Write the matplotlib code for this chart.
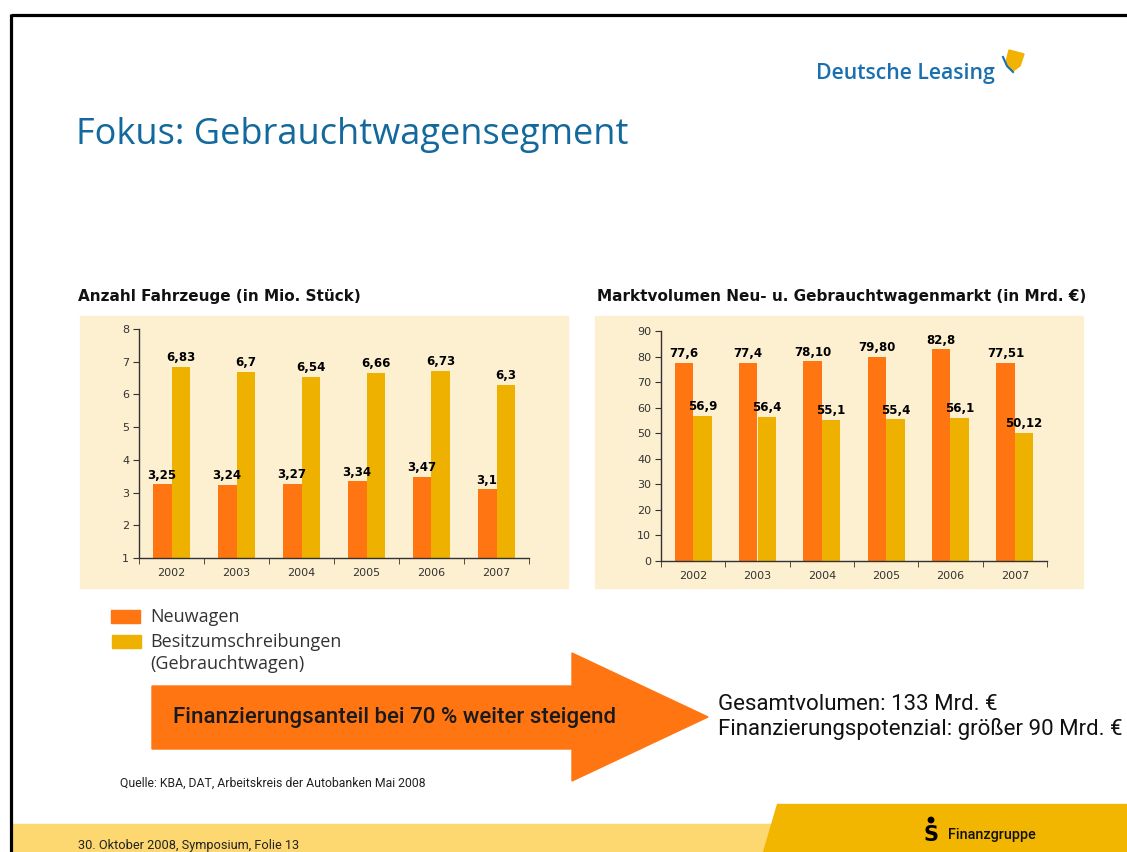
import matplotlib
matplotlib.use("Agg")
import matplotlib.pyplot as plt
from matplotlib.patches import Rectangle, Polygon, Circle
import numpy as np

# data
years = ["2002", "2003", "2004", "2005", "2006", "2007"]

# Anzahl Fahrzeuge (in Mio. Stueck)
neu_stueck = [3.25, 3.24, 3.27, 3.34, 3.47, 3.1]
gebraucht_stueck = [6.83, 6.7, 6.54, 6.66, 6.73, 6.3]
neu_stueck_lbl = ["3,25", "3,24", "3,27", "3,34", "3,47", "3,1"]
gebraucht_stueck_lbl = ["6,83", "6,7", "6,54", "6,66", "6,73", "6,3"]

# Marktvolumen (in Mrd. EUR)
neu_mrd = [77.6, 77.4, 78.10, 79.80, 82.8, 77.51]
gebraucht_mrd = [56.9, 56.4, 55.1, 55.4, 56.1, 50.12]
neu_mrd_lbl = ["77,6", "77,4", "78,10", "79,80", "82,8", "77,51"]
gebraucht_mrd_lbl = ["56,9", "56,4", "55,1", "55,4", "56,1", "50,12"]

ORANGE = "#FF7512"
GOLD = "#EEB100"
PANEL = "#FDF0D0"
BLUE = "#13699D"
W, H = 1127, 852

plt.rcParams["font.family"] = ["DejaVu Sans"]
fig = plt.figure(figsize=(W / 100, H / 100), dpi=100)
fig.patch.set_facecolor("white")

# overlay in pixel coordinates for the slide decoration
bg = fig.add_axes([0, 0, 1, 1], zorder=0)
bg.set_xlim(0, W)
bg.set_ylim(H, 0)
bg.axis("off")

# frame lines
bg.plot([11, W], [15, 15], color="black", lw=2.3, solid_capstyle="butt")
bg.plot([11, 11], [14, H], color="black", lw=2.3, solid_capstyle="butt")

# logo
bg.text(816, 74, "Deutsche Leasing", fontsize=15.3, color="#1A70AE",
        family="Open Sans", fontweight="semibold", va="center", ha="left")
bg.add_patch(Polygon([(1009, 50), (1024, 54), (1020, 66), (1013, 71), (1006, 62)],
                     closed=True, color="#F2B200", zorder=3))
bg.plot([1003, 1007, 1013], [57, 66, 72], color="#1A70AE", lw=1.5, zorder=4)

# title
bg.text(76, 135, "Fokus: Gebrauchtwagensegment", fontsize=26, color=BLUE,
        family="Open Sans", va="center", ha="left")

# chart subtitles
bg.text(78, 297, "Anzahl Fahrzeuge (in Mio. Stück)", fontsize=11,
        fontweight="bold", color="#111111", va="center", ha="left")
bg.text(597, 297, "Marktvolumen Neu- u. Gebrauchtwagenmarkt (in Mrd. €)",
        fontsize=11, fontweight="bold", color="#111111", va="center", ha="left")

# chart panels
bg.add_patch(Rectangle((80, 316), 488, 272, color=PANEL, zorder=0))
bg.add_patch(Rectangle((595, 316), 488, 272, color=PANEL, zorder=0))


def bar_chart(rect, neu, gebr, neu_lbl, gebr_lbl, ylim, yticks):
    x0, y0, x1, y1 = rect
    ax = fig.add_axes([x0 / W, 1 - y1 / H, (x1 - x0) / W, (y1 - y0) / H], zorder=2)
    ax.set_facecolor("none")
    x = np.arange(len(years))
    bw = 0.29
    b1 = ax.bar(x - bw / 2, neu, bw, color=ORANGE, bottom=0)
    b2 = ax.bar(x + bw / 2, gebr, bw, color=GOLD, bottom=0)
    ax.bar_label(b1, labels=neu_lbl, padding=2, fontsize=8.5, fontweight="bold")
    ax.bar_label(b2, labels=gebr_lbl, padding=2, fontsize=8.5, fontweight="bold")
    ax.set_xlim(-0.5, len(years) - 0.5)
    ax.set_ylim(*ylim)
    ax.set_yticks(yticks)
    ax.set_xticks(x)
    ax.set_xticklabels(years)
    ax.set_xticks(np.arange(-0.5, len(years), 1), minor=True)
    ax.tick_params(axis="x", which="major", length=0, pad=7, labelsize=8, labelcolor="#333333")
    ax.tick_params(axis="x", which="minor", length=4, color="#333333", direction="out")
    ax.tick_params(axis="y", length=4, color="#333333", labelsize=8, labelcolor="#333333", pad=3)
    for s in ["top", "right"]:
        ax.spines[s].set_visible(False)
    for s in ["left", "bottom"]:
        ax.spines[s].set_color("#333333")
        ax.spines[s].set_linewidth(1)
    return ax


bar_chart((139, 329, 529, 558), neu_stueck, gebraucht_stueck,
          neu_stueck_lbl, gebraucht_stueck_lbl, (1, 8), range(1, 9))
bar_chart((661, 331, 1047, 561), neu_mrd, gebraucht_mrd,
          neu_mrd_lbl, gebraucht_mrd_lbl, (0, 90), range(0, 91, 10))

# legend
bg.add_patch(Rectangle((111, 610), 29, 13, color=ORANGE))
bg.add_patch(Rectangle((112, 635), 29, 13, color=GOLD))
bg.text(150, 617, "Neuwagen", fontsize=13, color="#333333", family="Open Sans", va="center")
bg.text(150, 642, "Besitzumschreibungen", fontsize=13, color="#333333", family="Open Sans", va="center")
bg.text(150, 664, "(Gebrauchtwagen)", fontsize=13, color="#333333", family="Open Sans", va="center")

# arrow
bg.add_patch(Polygon([(152, 686), (572, 686), (572, 653), (708, 717),
                      (572, 781), (572, 749), (152, 749)], closed=True, color=ORANGE))
bg.text(173, 718, "Finanzierungsanteil bei 70 % weiter steigend", fontsize=16,
        color="#1A1A1A", family="Roboto", fontweight="medium", va="center", ha="left")
bg.text(718, 704, "Gesamtvolumen: 133 Mrd. €", fontsize=16,
        color="#111111", family="Roboto", va="center", ha="left")
bg.text(718, 729, "Finanzierungspotenzial: größer 90 Mrd. €", fontsize=16,
        color="#111111", family="Roboto", va="center", ha="left")

# source
bg.text(120, 783, "Quelle: KBA, DAT, Arbeitskreis der Autobanken Mai 2008", fontsize=8.8,
        color="#222222", family="Roboto", va="center", ha="left")

# footer
bg.add_patch(Rectangle((12, 824), 780, 28, color="#FDD870", zorder=1))
bg.add_patch(Polygon([(777, 804), (W, 804), (W, H), (763, H)], closed=True,
                     color="#F2B600", zorder=2))
bg.text(78, 845, "30. Oktober 2008, Symposium, Folie 13", fontsize=9.2,
        color="#222222", family="Roboto", va="center", ha="left")
bg.text(931, 835, "S", fontsize=15, fontweight="bold", color="black",
        va="center", ha="center", zorder=3)
bg.add_patch(Circle((931, 820), 2.7, color="black", zorder=3))
bg.text(948, 835, "Finanzgruppe", fontsize=10.4, fontweight="medium", color="#111111",
        family="Roboto", va="center", ha="left", zorder=3)

fig.savefig("out.png", dpi=100)
